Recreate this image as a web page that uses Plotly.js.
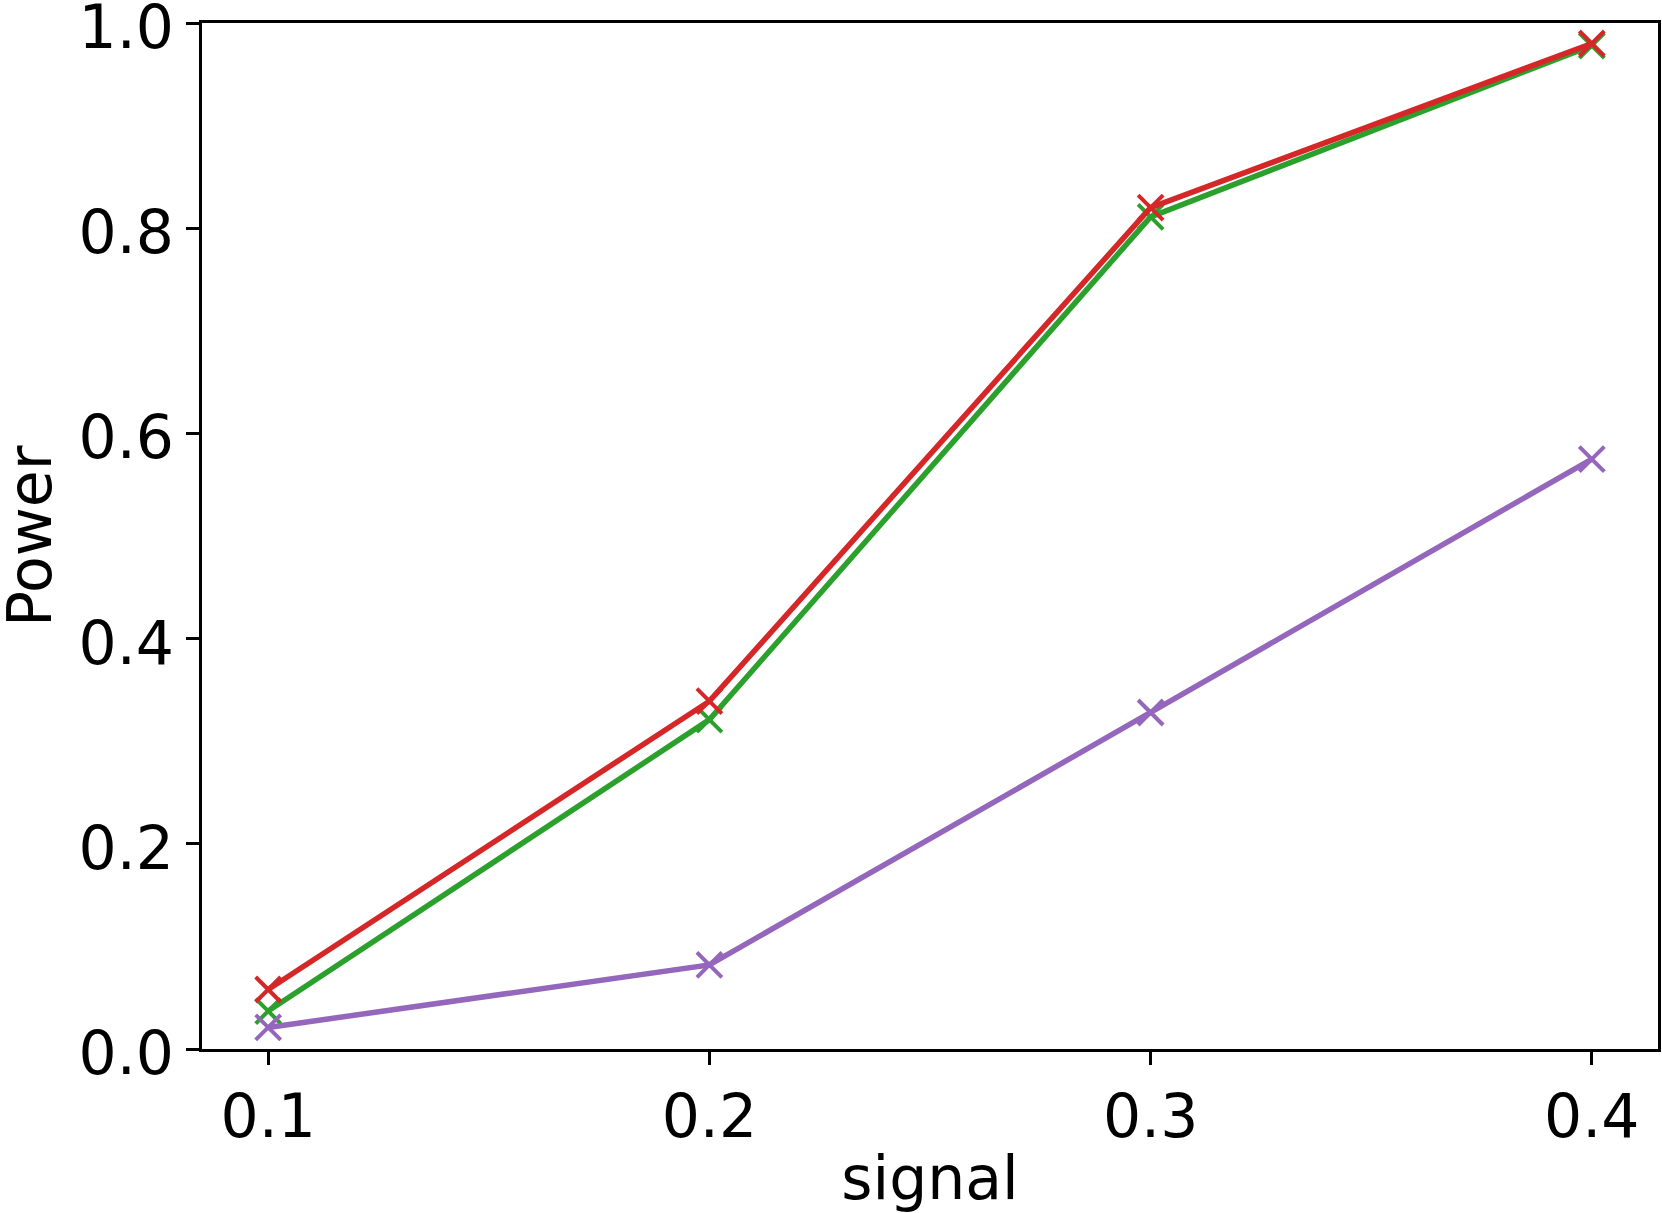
<!DOCTYPE html>
<html>
<head>
<meta charset="utf-8">
<script src="https://cdn.plot.ly/plotly-3.0.1.min.js"></script>
<style>
  html, body { margin: 0; padding: 0; background: white; }
  #chart { width: 1662px; height: 1213px; }
</style>
</head>
<body>
<div id="chart"></div>
<script>
// power curves vs signal strength
const signal = [0.1, 0.2, 0.3, 0.4];
const powerGreen = [0.037, 0.321, 0.811, 0.978];
const powerRed = [0.058, 0.339, 0.820, 0.980];
const powerPurple = [0.021, 0.082, 0.328, 0.575];

const xTicks = [0.1, 0.2, 0.3, 0.4];
const yTicks = [0.0, 0.2, 0.4, 0.6, 0.8, 1.0];

function series(y, color) {
  return {
    x: signal, y: y, type: "scatter", mode: "lines+markers",
    line: { color: color, width: 5.5 },
    marker: { symbol: "x-thin-open", size: 25, color: color, line: { color: color, width: 4 } },
    showlegend: false, hoverinfo: "x+y"
  };
}

const traces = [
  series(powerGreen, "#2ca02c"),
  series(powerRed, "#d62728"),
  series(powerPurple, "#9467bd")
];

const font = { family: "DejaVu Sans, sans-serif", size: 60, color: "black" };

const layout = {
  width: 1662, height: 1213,
  plot_bgcolor: "white", paper_bgcolor: "white",
  margin: { l: 202, r: 4, t: 23, b: 164 },
  font: font,
  showlegend: false,
  xaxis: {
    range: [0.085, 0.415],
    tickvals: xTicks, ticktext: xTicks.map(v => v.toFixed(1)),
    ticks: "outside", ticklen: 13, tickwidth: 3, tickcolor: "black",
    showline: true, linewidth: 3, linecolor: "black", mirror: true,
    showgrid: false, zeroline: false,
    tickfont: font, ticklabeloverflow: "allow",
    title: { text: "signal", font: font },
    automargin: false
  },
  yaxis: {
    range: [0, 1.0],
    tickvals: yTicks, ticktext: yTicks.map(v => v.toFixed(1)),
    ticks: "outside", ticklen: 13, tickwidth: 3, tickcolor: "black",
    showline: true, linewidth: 3, linecolor: "black", mirror: true,
    showgrid: false, zeroline: false,
    tickfont: font, ticklabeloverflow: "allow", ticklabelshift: 4,
    automargin: false
  },
  // y title as an annotation so it can sit where the reference has it
  annotations: [{
    text: "Power", font: font, textangle: -90, showarrow: false,
    xref: "paper", yref: "paper", x: 0, y: 0.5, borderpad: 0,
    xanchor: "center", yanchor: "middle", xshift: -172
  }]
};

Plotly.newPlot("chart", traces, layout, { displayModeBar: false, staticPlot: true });
</script>
</body>
</html>
